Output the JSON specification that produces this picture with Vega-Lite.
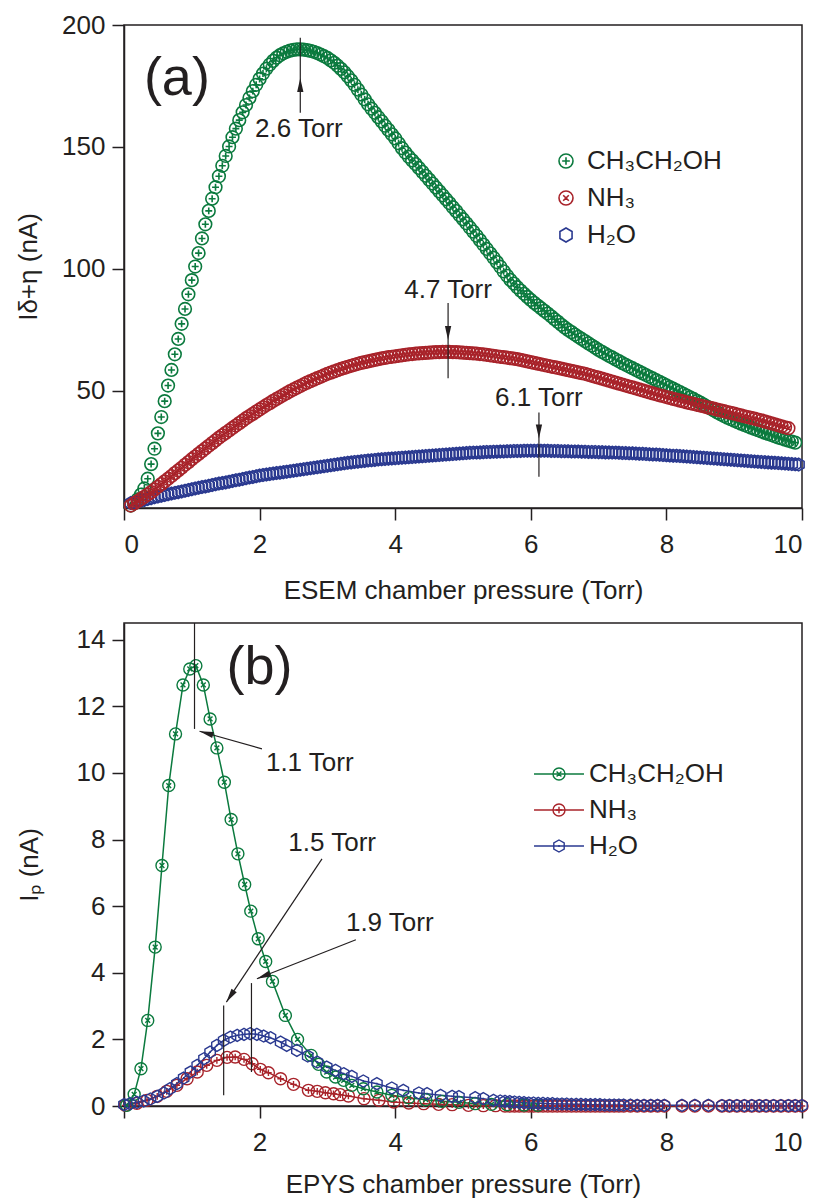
{
"$schema":"https://vega.github.io/schema/vega-lite/v6.json",
"padding":{"left":14,"top":11,"right":0,"bottom":0},
"background":"white",
"config":{
 "font":"Liberation Sans",
 "view":{"stroke":"#231f20","strokeWidth":1.5},
 "axis":{"domainColor":"#231f20","domainWidth":1.5,"tickColor":"#231f20","tickWidth":1.5,"tickSize":12,"labelFontSize":26,"labelColor":"#231f20","labelFont":"Liberation Sans","titleFont":"Liberation Sans","titleFontSize":26,"titleFontWeight":"normal","titleColor":"#231f20","grid":false},
 "axisX":{"labelPadding":11,"titlePadding":20},
 "axisY":{"labelPadding":7}
},
"bounds":"flush",
"spacing":115,
"resolve":{"scale":{"color":"independent","shape":"independent","stroke":"independent"},"legend":{"color":"independent","shape":"independent","stroke":"independent"}},
"datasets":{
"a":[
{"x":0.1,"c":3.0,"n":3.0,"h":4.0},{"x":0.15,"c":4.0,"n":3.9,"h":4.3},{"x":0.2,"c":5.5,"n":4.8,"h":4.6},{"x":0.25,"c":7.5,"n":5.7,"h":5.0},{"x":0.3,"c":10.0,"n":6.6,"h":5.3},{"x":0.35,"c":14.0,"n":7.5,"h":5.7},{"x":0.4,"c":20.0,"n":8.5,"h":6.0},{"x":0.45,"c":26.3,"n":9.6,"h":6.4},{"x":0.5,"c":32.6,"n":10.7,"h":6.7},{"x":0.55,"c":39.3,"n":11.8,"h":7.0},
{"x":0.6,"c":45.8,"n":12.9,"h":7.3},{"x":0.65,"c":52.2,"n":14.0,"h":7.6},{"x":0.7,"c":58.6,"n":15.1,"h":7.9},{"x":0.75,"c":65.0,"n":16.3,"h":8.2},{"x":0.8,"c":71.3,"n":17.4,"h":8.5},{"x":0.85,"c":77.5,"n":18.5,"h":8.8},{"x":0.9,"c":83.6,"n":19.7,"h":9.1},{"x":0.95,"c":89.6,"n":20.8,"h":9.4},{"x":1.0,"c":95.4,"n":22.0,"h":9.7},{"x":1.05,"c":101.0,"n":23.1,"h":10.0},
{"x":1.1,"c":106.5,"n":24.2,"h":10.3},{"x":1.15,"c":112.5,"n":25.3,"h":10.6},{"x":1.2,"c":118.3,"n":26.4,"h":10.8},{"x":1.25,"c":123.8,"n":27.5,"h":11.1},{"x":1.3,"c":128.8,"n":28.6,"h":11.4},{"x":1.35,"c":133.5,"n":29.7,"h":11.7},{"x":1.4,"c":138.0,"n":30.8,"h":12.0},{"x":1.45,"c":142.3,"n":31.8,"h":12.2},{"x":1.5,"c":146.3,"n":32.8,"h":12.5},{"x":1.55,"c":150.2,"n":33.8,"h":12.8},
{"x":1.6,"c":154.0,"n":34.8,"h":13.1},{"x":1.65,"c":157.5,"n":35.8,"h":13.4},{"x":1.7,"c":161.0,"n":36.8,"h":13.6},{"x":1.75,"c":164.2,"n":37.8,"h":13.9},{"x":1.8,"c":167.2,"n":38.8,"h":14.2},{"x":1.85,"c":170.1,"n":39.7,"h":14.5},{"x":1.9,"c":172.9,"n":40.6,"h":14.7},{"x":1.95,"c":175.5,"n":41.5,"h":15.0},{"x":2.0,"c":177.9,"n":42.4,"h":15.3},{"x":2.05,"c":180.1,"n":43.3,"h":15.5},
{"x":2.1,"c":182.1,"n":44.2,"h":15.7},{"x":2.15,"c":183.8,"n":45.0,"h":15.9},{"x":2.2,"c":185.3,"n":45.9,"h":16.1},{"x":2.25,"c":186.6,"n":46.7,"h":16.3},{"x":2.3,"c":187.6,"n":47.5,"h":16.5},{"x":2.35,"c":188.4,"n":48.3,"h":16.7},{"x":2.4,"c":189.0,"n":49.1,"h":16.9},{"x":2.45,"c":189.5,"n":49.9,"h":17.1},{"x":2.5,"c":189.8,"n":50.6,"h":17.3},{"x":2.55,"c":190.0,"n":51.3,"h":17.5},
{"x":2.6,"c":190.0,"n":52.0,"h":17.7},{"x":2.65,"c":189.9,"n":52.7,"h":17.9},{"x":2.7,"c":189.7,"n":53.4,"h":18.1},{"x":2.75,"c":189.4,"n":54.0,"h":18.3},{"x":2.8,"c":189.0,"n":54.6,"h":18.5},{"x":2.85,"c":188.5,"n":55.2,"h":18.7},{"x":2.9,"c":187.9,"n":55.8,"h":18.9},{"x":2.95,"c":187.2,"n":56.4,"h":19.1},{"x":3.0,"c":186.5,"n":57.0,"h":19.3},{"x":3.05,"c":185.5,"n":57.5,"h":19.5},
{"x":3.1,"c":184.5,"n":58.0,"h":19.7},{"x":3.15,"c":183.3,"n":58.5,"h":19.9},{"x":3.2,"c":182.0,"n":59.0,"h":20.1},{"x":3.25,"c":180.6,"n":59.4,"h":20.3},{"x":3.3,"c":179.0,"n":59.9,"h":20.5},{"x":3.35,"c":177.3,"n":60.3,"h":20.7},{"x":3.4,"c":175.5,"n":60.7,"h":20.9},{"x":3.45,"c":173.5,"n":61.1,"h":21.0},{"x":3.5,"c":171.5,"n":61.5,"h":21.2},{"x":3.55,"c":169.5,"n":61.8,"h":21.3},
{"x":3.6,"c":167.5,"n":62.1,"h":21.5},{"x":3.65,"c":165.7,"n":62.4,"h":21.6},{"x":3.7,"c":164.0,"n":62.7,"h":21.7},{"x":3.75,"c":162.2,"n":63.0,"h":21.9},{"x":3.8,"c":160.5,"n":63.3,"h":22.0},{"x":3.85,"c":158.7,"n":63.5,"h":22.1},{"x":3.9,"c":157.0,"n":63.8,"h":22.2},{"x":3.95,"c":155.2,"n":64.0,"h":22.3},{"x":4.0,"c":153.5,"n":64.2,"h":22.4},{"x":4.05,"c":151.5,"n":64.4,"h":22.5},
{"x":4.1,"c":149.5,"n":64.6,"h":22.6},{"x":4.15,"c":147.7,"n":64.8,"h":22.7},{"x":4.2,"c":146.0,"n":65.0,"h":22.8},{"x":4.25,"c":144.5,"n":65.1,"h":22.9},{"x":4.3,"c":143.0,"n":65.3,"h":23.0},{"x":4.35,"c":141.4,"n":65.4,"h":23.1},{"x":4.4,"c":139.8,"n":65.5,"h":23.2},{"x":4.45,"c":138.2,"n":65.6,"h":23.3},{"x":4.5,"c":136.6,"n":65.7,"h":23.4},{"x":4.55,"c":135.0,"n":65.8,"h":23.5},
{"x":4.6,"c":133.4,"n":65.9,"h":23.6},{"x":4.65,"c":131.8,"n":65.9,"h":23.7},{"x":4.7,"c":130.2,"n":66.0,"h":23.8},{"x":4.75,"c":128.6,"n":66.0,"h":23.9},{"x":4.8,"c":127.0,"n":66.0,"h":24.0},{"x":4.85,"c":125.3,"n":65.9,"h":24.1},{"x":4.9,"c":123.7,"n":65.9,"h":24.2},{"x":4.95,"c":122.0,"n":65.8,"h":24.3},{"x":5.0,"c":120.4,"n":65.7,"h":24.4},{"x":5.05,"c":118.7,"n":65.6,"h":24.5},
{"x":5.1,"c":117.0,"n":65.5,"h":24.6},{"x":5.15,"c":115.3,"n":65.4,"h":24.7},{"x":5.2,"c":113.6,"n":65.3,"h":24.7},{"x":5.25,"c":111.8,"n":65.1,"h":24.8},{"x":5.3,"c":110.0,"n":65.0,"h":24.9},{"x":5.35,"c":108.2,"n":64.8,"h":25.0},{"x":5.4,"c":106.4,"n":64.6,"h":25.0},{"x":5.45,"c":104.6,"n":64.4,"h":25.1},{"x":5.5,"c":102.8,"n":64.2,"h":25.1},{"x":5.55,"c":100.9,"n":64.0,"h":25.2},
{"x":5.6,"c":99.0,"n":63.8,"h":25.2},{"x":5.65,"c":97.2,"n":63.6,"h":25.3},{"x":5.7,"c":95.5,"n":63.4,"h":25.3},{"x":5.75,"c":94.0,"n":63.2,"h":25.4},{"x":5.8,"c":92.5,"n":63.0,"h":25.4},{"x":5.85,"c":91.1,"n":62.7,"h":25.4},{"x":5.9,"c":89.8,"n":62.4,"h":25.5},{"x":5.95,"c":88.5,"n":62.1,"h":25.5},{"x":6.0,"c":87.3,"n":61.8,"h":25.5},{"x":6.05,"c":86.1,"n":61.5,"h":25.5},
{"x":6.1,"c":85.0,"n":61.2,"h":25.5},{"x":6.15,"c":83.9,"n":60.9,"h":25.5},{"x":6.2,"c":82.8,"n":60.6,"h":25.5},{"x":6.25,"c":81.7,"n":60.3,"h":25.5},{"x":6.3,"c":80.6,"n":60.0,"h":25.4},{"x":6.35,"c":79.4,"n":59.7,"h":25.4},{"x":6.4,"c":78.3,"n":59.4,"h":25.4},{"x":6.45,"c":77.1,"n":59.1,"h":25.3},{"x":6.5,"c":76.0,"n":58.8,"h":25.3},{"x":6.55,"c":75.0,"n":58.5,"h":25.3},
{"x":6.6,"c":74.1,"n":58.2,"h":25.2},{"x":6.65,"c":73.1,"n":57.9,"h":25.2},{"x":6.7,"c":72.2,"n":57.6,"h":25.2},{"x":6.75,"c":71.3,"n":57.3,"h":25.1},{"x":6.8,"c":70.4,"n":57.0,"h":25.1},{"x":6.85,"c":69.5,"n":56.6,"h":25.0},{"x":6.9,"c":68.6,"n":56.2,"h":25.0},{"x":6.95,"c":67.7,"n":55.8,"h":25.0},{"x":7.0,"c":66.8,"n":55.4,"h":24.9},{"x":7.05,"c":66.0,"n":55.0,"h":24.9},
{"x":7.1,"c":65.2,"n":54.6,"h":24.8},{"x":7.15,"c":64.4,"n":54.2,"h":24.8},{"x":7.2,"c":63.7,"n":53.8,"h":24.7},{"x":7.25,"c":62.9,"n":53.4,"h":24.7},{"x":7.3,"c":62.2,"n":53.0,"h":24.6},{"x":7.35,"c":61.4,"n":52.6,"h":24.5},{"x":7.4,"c":60.7,"n":52.2,"h":24.5},{"x":7.45,"c":60.0,"n":51.8,"h":24.4},{"x":7.5,"c":59.3,"n":51.4,"h":24.4},{"x":7.55,"c":58.6,"n":51.0,"h":24.3},
{"x":7.6,"c":57.9,"n":50.6,"h":24.2},{"x":7.65,"c":57.2,"n":50.2,"h":24.2},{"x":7.7,"c":56.5,"n":49.8,"h":24.1},{"x":7.75,"c":55.8,"n":49.4,"h":24.0},{"x":7.8,"c":55.1,"n":49.0,"h":23.9},{"x":7.85,"c":54.4,"n":48.6,"h":23.9},{"x":7.9,"c":53.7,"n":48.2,"h":23.8},{"x":7.95,"c":53.0,"n":47.9,"h":23.7},{"x":8.0,"c":52.3,"n":47.5,"h":23.6},{"x":8.05,"c":51.6,"n":47.1,"h":23.5},
{"x":8.1,"c":50.9,"n":46.7,"h":23.4},{"x":8.15,"c":50.2,"n":46.4,"h":23.4},{"x":8.2,"c":49.5,"n":46.0,"h":23.3},{"x":8.25,"c":48.8,"n":45.7,"h":23.2},{"x":8.3,"c":48.1,"n":45.3,"h":23.1},{"x":8.35,"c":47.4,"n":45.0,"h":23.0},{"x":8.4,"c":46.7,"n":44.7,"h":22.9},{"x":8.45,"c":45.9,"n":44.3,"h":22.8},{"x":8.5,"c":45.2,"n":44.0,"h":22.7},{"x":8.55,"c":44.4,"n":43.7,"h":22.6},
{"x":8.6,"c":43.6,"n":43.3,"h":22.5},{"x":8.65,"c":42.8,"n":43.0,"h":22.4},{"x":8.7,"c":42.0,"n":42.7,"h":22.3},{"x":8.75,"c":41.2,"n":42.3,"h":22.2},{"x":8.8,"c":40.4,"n":42.0,"h":22.1},{"x":8.85,"c":39.7,"n":41.7,"h":22.0},{"x":8.9,"c":39.0,"n":41.3,"h":21.9},{"x":8.95,"c":38.4,"n":41.0,"h":21.8},{"x":9.0,"c":37.8,"n":40.7,"h":21.7},{"x":9.05,"c":37.2,"n":40.3,"h":21.6},
{"x":9.1,"c":36.6,"n":40.0,"h":21.5},{"x":9.15,"c":36.0,"n":39.6,"h":21.4},{"x":9.2,"c":35.5,"n":39.3,"h":21.3},{"x":9.25,"c":34.9,"n":38.9,"h":21.2},{"x":9.3,"c":34.4,"n":38.6,"h":21.1},{"x":9.35,"c":33.9,"n":38.2,"h":21.0},{"x":9.4,"c":33.4,"n":37.9,"h":20.9},{"x":9.45,"c":32.9,"n":37.5,"h":20.8},{"x":9.5,"c":32.4,"n":37.1,"h":20.7},{"x":9.55,"c":31.9,"n":36.7,"h":20.6},
{"x":9.6,"c":31.4,"n":36.3,"h":20.5},{"x":9.65,"c":30.9,"n":35.9,"h":20.4},{"x":9.7,"c":30.5,"n":35.5,"h":20.3},{"x":9.75,"c":30.0,"n":35.1,"h":20.2},{"x":9.8,"c":29.6,"n":34.7,"h":20.1},{"x":9.85,"c":29.2,"h":20.0},{"x":9.9,"c":28.8,"h":19.9},{"x":9.95,"h":19.8}
],
"b":[
{"s":"n","x":0.02,"y":0.02},{"s":"n","x":0.19,"y":0.08},{"s":"n","x":0.34,"y":0.17},{"s":"n","x":0.49,"y":0.29},{"s":"n","x":0.63,"y":0.44},{"s":"n","x":0.78,"y":0.62},{"s":"n","x":0.93,"y":0.82},{"s":"n","x":1.08,"y":1.02},{"s":"n","x":1.22,"y":1.22},{"s":"n","x":1.37,"y":1.37},{"s":"n","x":1.52,"y":1.46},{"s":"n","x":1.64,"y":1.47},{"s":"n","x":1.77,"y":1.4},{"s":"n","x":1.89,"y":1.27},{"s":"n","x":2.01,"y":1.1},{"s":"n","x":2.13,"y":1.0},{"s":"n","x":2.31,"y":0.82},{"s":"n","x":2.5,"y":0.65},{"s":"n","x":2.72,"y":0.47},{"s":"n","x":2.85,"y":0.44},{"s":"n","x":2.97,"y":0.4},{"s":"n","x":3.09,"y":0.37},{"s":"n","x":3.19,"y":0.34},{"s":"n","x":3.31,"y":0.3},{"s":"n","x":3.54,"y":0.22},{"s":"n","x":3.76,"y":0.17},{"s":"n","x":3.98,"y":0.12},{"s":"n","x":4.2,"y":0.09},{"s":"n","x":4.42,"y":0.07},{"s":"n","x":4.64,"y":0.05},{"s":"n","x":4.84,"y":0.04},{"s":"n","x":5.08,"y":0.02},{"s":"n","x":5.3,"y":0.01},{"s":"n","x":5.48,"y":0.01},
{"s":"n","x":5.62,"y":0},{"s":"n","x":5.69,"y":0},{"s":"n","x":5.76,"y":0},{"s":"n","x":5.83,"y":0},{"s":"n","x":5.9,"y":0},{"s":"n","x":5.97,"y":0},{"s":"n","x":6.04,"y":0},{"s":"n","x":6.11,"y":0},{"s":"n","x":6.18,"y":0},{"s":"n","x":6.25,"y":0},{"s":"n","x":6.32,"y":0},{"s":"n","x":6.39,"y":0},{"s":"n","x":6.46,"y":0},{"s":"n","x":6.53,"y":0},{"s":"n","x":6.6,"y":0},{"s":"n","x":6.67,"y":0},{"s":"n","x":6.74,"y":0},{"s":"n","x":6.81,"y":0},{"s":"n","x":6.88,"y":0},{"s":"n","x":6.95,"y":0},{"s":"n","x":7.02,"y":0},{"s":"n","x":7.09,"y":0},{"s":"n","x":7.16,"y":0},{"s":"n","x":7.23,"y":0},{"s":"n","x":7.3,"y":0},{"s":"n","x":7.37,"y":0},{"s":"n","x":7.47,"y":0},{"s":"n","x":7.57,"y":0},{"s":"n","x":7.67,"y":0},{"s":"n","x":7.77,"y":0},{"s":"n","x":7.87,"y":0},{"s":"n","x":7.97,"y":0},{"s":"n","x":8.23,"y":0},{"s":"n","x":8.42,"y":0},{"s":"n","x":8.62,"y":0},{"s":"n","x":8.82,"y":0},{"s":"n","x":8.93,"y":0},{"s":"n","x":9.04,"y":0},{"s":"n","x":9.15,"y":0},{"s":"n","x":9.26,"y":0},{"s":"n","x":9.37,"y":0},{"s":"n","x":9.47,"y":0},{"s":"n","x":9.58,"y":0},{"s":"n","x":9.69,"y":0},{"s":"n","x":9.8,"y":0},{"s":"n","x":9.9,"y":0},{"s":"n","x":10.0,"y":0},
{"s":"c","x":0.04,"y":0.02},{"s":"c","x":0.15,"y":0.35},{"s":"c","x":0.25,"y":1.12},{"s":"c","x":0.35,"y":2.57},{"s":"c","x":0.46,"y":4.77},{"s":"c","x":0.56,"y":7.22},{"s":"c","x":0.66,"y":9.62},{"s":"c","x":0.76,"y":11.17},{"s":"c","x":0.87,"y":12.64},{"s":"c","x":0.97,"y":13.12},{"s":"c","x":1.06,"y":13.22},{"s":"c","x":1.17,"y":12.64},{"s":"c","x":1.27,"y":11.62},{"s":"c","x":1.37,"y":10.75},{"s":"c","x":1.48,"y":9.72},{"s":"c","x":1.58,"y":8.6},{"s":"c","x":1.68,"y":7.57},{"s":"c","x":1.78,"y":6.65},{"s":"c","x":1.87,"y":5.85},{"s":"c","x":1.98,"y":5.02},{"s":"c","x":2.09,"y":4.34},{"s":"c","x":2.19,"y":3.74},{"s":"c","x":2.38,"y":2.72},{"s":"c","x":2.56,"y":2.0},{"s":"c","x":2.76,"y":1.52},{"s":"c","x":2.87,"y":1.25},{"s":"c","x":2.99,"y":1.02},{"s":"c","x":3.12,"y":0.87},{"s":"c","x":3.24,"y":0.77},{"s":"c","x":3.36,"y":0.62},{"s":"c","x":3.53,"y":0.52},{"s":"c","x":3.73,"y":0.42},{"s":"c","x":3.95,"y":0.32},{"s":"c","x":4.2,"y":0.25},{"s":"c","x":4.45,"y":0.19},{"s":"c","x":4.69,"y":0.14},{"s":"c","x":4.94,"y":0.11},{"s":"c","x":5.18,"y":0.07},{"s":"c","x":5.42,"y":0.05},{"s":"c","x":5.65,"y":0.04},{"s":"c","x":5.9,"y":0.03},{"s":"c","x":6.1,"y":0.02},
{"s":"h","x":0.0,"y":0.04},{"s":"h","x":0.09,"y":0.07},{"s":"h","x":0.19,"y":0.11},{"s":"h","x":0.29,"y":0.15},{"s":"h","x":0.39,"y":0.21},{"s":"h","x":0.49,"y":0.29},{"s":"h","x":0.59,"y":0.39},{"s":"h","x":0.68,"y":0.52},{"s":"h","x":0.78,"y":0.67},{"s":"h","x":0.88,"y":0.84},{"s":"h","x":0.98,"y":1.02},{"s":"h","x":1.08,"y":1.22},{"s":"h","x":1.18,"y":1.42},{"s":"h","x":1.27,"y":1.62},{"s":"h","x":1.37,"y":1.82},{"s":"h","x":1.47,"y":1.97},{"s":"h","x":1.57,"y":2.07},{"s":"h","x":1.67,"y":2.12},{"s":"h","x":1.77,"y":2.15},{"s":"h","x":1.86,"y":2.17},{"s":"h","x":1.96,"y":2.15},{"s":"h","x":2.06,"y":2.1},{"s":"h","x":2.16,"y":2.05},{"s":"h","x":2.31,"y":1.92},{"s":"h","x":2.4,"y":1.82},{"s":"h","x":2.55,"y":1.67},{"s":"h","x":2.71,"y":1.5},{"s":"h","x":2.85,"y":1.32},{"s":"h","x":2.99,"y":1.17},{"s":"h","x":3.12,"y":1.07},{"s":"h","x":3.24,"y":0.97},{"s":"h","x":3.36,"y":0.89},{"s":"h","x":3.53,"y":0.75},{"s":"h","x":3.73,"y":0.67},{"s":"h","x":3.95,"y":0.54},{"s":"h","x":4.12,"y":0.47},{"s":"h","x":4.35,"y":0.39},{"s":"h","x":4.47,"y":0.37},{"s":"h","x":4.67,"y":0.32},{"s":"h","x":4.84,"y":0.29},{"s":"h","x":4.94,"y":0.28},{"s":"h","x":5.18,"y":0.25},{"s":"h","x":5.3,"y":0.22},{"s":"h","x":5.45,"y":0.17},
{"s":"h","x":5.55,"y":0.15},{"s":"h","x":5.62,"y":0.14},{"s":"h","x":5.69,"y":0.13},{"s":"h","x":5.76,"y":0.12},{"s":"h","x":5.83,"y":0.11},{"s":"h","x":5.9,"y":0.1},{"s":"h","x":5.97,"y":0.09},{"s":"h","x":6.04,"y":0.09},{"s":"h","x":6.11,"y":0.08},{"s":"h","x":6.18,"y":0.08},{"s":"h","x":6.25,"y":0.07},{"s":"h","x":6.32,"y":0.07},{"s":"h","x":6.39,"y":0.06},{"s":"h","x":6.46,"y":0.06},{"s":"h","x":6.53,"y":0.06},{"s":"h","x":6.6,"y":0.05},{"s":"h","x":6.67,"y":0.05},{"s":"h","x":6.74,"y":0.05},{"s":"h","x":6.81,"y":0.04},{"s":"h","x":6.88,"y":0.04},{"s":"h","x":6.95,"y":0.04},{"s":"h","x":7.02,"y":0.04},{"s":"h","x":7.09,"y":0.03},{"s":"h","x":7.16,"y":0.03},{"s":"h","x":7.23,"y":0.03},{"s":"h","x":7.3,"y":0.03},{"s":"h","x":7.37,"y":0.03},{"s":"h","x":7.47,"y":0.03},{"s":"h","x":7.57,"y":0.02},{"s":"h","x":7.67,"y":0.02},{"s":"h","x":7.77,"y":0.02},{"s":"h","x":7.87,"y":0.02},{"s":"h","x":7.97,"y":0.02},{"s":"h","x":8.23,"y":0.02},{"s":"h","x":8.42,"y":0.02},{"s":"h","x":8.62,"y":0.02},{"s":"h","x":8.82,"y":0.01},{"s":"h","x":8.93,"y":0.01},{"s":"h","x":9.04,"y":0.01},{"s":"h","x":9.15,"y":0.01},{"s":"h","x":9.26,"y":0.01},{"s":"h","x":9.37,"y":0.01},{"s":"h","x":9.47,"y":0.01},{"s":"h","x":9.58,"y":0.01},{"s":"h","x":9.69,"y":0.01},{"s":"h","x":9.8,"y":0.01},{"s":"h","x":9.9,"y":0.01},{"s":"h","x":10.0,"y":0.01}
]
},
"vconcat":[
{
 "width":678,"height":483,
 "encoding":{
  "x":{"field":"x","type":"quantitative","scale":{"domain":[0,10],"nice":false,"zero":false},"axis":{"values":[0,2,4,6,8,10],"title":"ESEM chamber pressure (Torr)"}},
  "y":{"field":"y","type":"quantitative","scale":{"domain":[2,200],"nice":false,"zero":false},"axis":{"values":[50,100,150,200],"title":"Iδ+η (nA)","titlePadding":20}}
 },
 "layer":[
  {"data":{"name":"a"},"transform":[{"fold":["c","n","h"],"as":["s","y"]}],
   "mark":{"type":"point","filled":false,"size":160,"strokeWidth":1.6,"opacity":1},
   "encoding":{
    "color":{"field":"s","type":"nominal","scale":{"domain":["c","n","h"],"range":["#0b7a3e","#a8232a","#2a3990"]},
     "legend":{"orient":"none","legendX":429,"legendY":123,"title":null,"labelExpr":"datum.value=='c'?'CH₃CH₂OH':datum.value=='n'?'NH₃':'H₂O'","labelFontSize":26,"labelFont":"Liberation Sans","labelColor":"#231f20","symbolSize":196,"symbolStrokeWidth":1.6,"rowPadding":11,"labelOffset":8,"padding":0}},
    "shape":{"field":"s","type":"nominal","scale":{"domain":["c","n","h"],"range":["M1,0A1,1,0,1,1,-1,0A1,1,0,1,1,1,0ZM-0.55,0L0.55,0M0,-0.55L0,0.55","M1,0A1,1,0,1,1,-1,0A1,1,0,1,1,1,0ZM-0.4,-0.4L0.4,0.4M-0.4,0.4L0.4,-0.4","M0,-1L0.866,-0.5L0.866,0.5L0,1L-0.866,0.5L-0.866,-0.5Z"]},
     "legend":{"orient":"none","legendX":429,"legendY":123,"title":null,"labelExpr":"datum.value=='c'?'CH₃CH₂OH':datum.value=='n'?'NH₃':'H₂O'","labelFontSize":26,"labelFont":"Liberation Sans","labelColor":"#231f20","symbolSize":196,"symbolStrokeWidth":1.6,"rowPadding":11,"labelOffset":8,"padding":0}},
    "order":{"field":"s","type":"ordinal"}
   }},
  {"data":{"values":[{"x":2.6,"y":164,"y2":194.8},{"x":4.78,"y":55.2,"y2":86},{"x":6.12,"y":14.8,"y2":41.1}]},
   "mark":{"type":"rule","color":"#231f20","strokeWidth":1.2},"encoding":{"y2":{"field":"y2"}}},
  {"data":{"values":[{"x":2.6,"y":178.3}]},
   "mark":{"type":"point","shape":"M0,0L-0.45,2L0.45,2Z","size":196,"filled":true,"color":"#231f20","opacity":1,"strokeWidth":0,"angle":0}},
  {"data":{"values":[{"x":4.78,"y":70.9},{"x":6.12,"y":30.5}]},
   "mark":{"type":"point","shape":"M0,0L-0.45,2L0.45,2Z","size":196,"filled":true,"color":"#231f20","opacity":1,"strokeWidth":0,"angle":180}},
  {"data":{"values":[{"x":2.58,"y":157.3,"t":"2.6 Torr"},{"x":4.78,"y":91.5,"t":"4.7 Torr"},{"x":6.12,"y":47.2,"t":"6.1 Torr"}]},
   "mark":{"type":"text","fontSize":26,"font":"Liberation Sans","color":"#231f20","align":"center","baseline":"middle"},"encoding":{"text":{"field":"t"}}},
  {"data":{"values":[{"x":0.78,"y":177.8,"t":"(a)"}]},
   "mark":{"type":"text","fontSize":54,"font":"Liberation Sans","color":"#231f20","align":"center","baseline":"middle"},"encoding":{"text":{"field":"t"}}}
 ]
},
{
 "width":678,"height":483,
 "encoding":{
  "x":{"field":"x","type":"quantitative","scale":{"domain":[0,10],"nice":false,"zero":false},"axis":{"values":[0,2,4,6,8,10],"labelExpr":"datum.value==0?'':datum.label","title":"EPYS chamber pressure (Torr)","titlePadding":16}},
  "y":{"field":"y","type":"quantitative","scale":{"domain":[0,14.5],"nice":false,"zero":false},"axis":{"values":[0,2,4,6,8,10,12,14],"title":"Iₚ (nA)","titlePadding":34}}
 },
 "layer":[
  {"data":{"name":"b"},"mark":{"type":"line","strokeWidth":1.5},
   "encoding":{"color":{"field":"s","type":"nominal","scale":{"domain":["h","c","n"],"range":["#2a3990","#0b7a3e","#a8232a"]},
    "legend":{"orient":"none","legendX":422,"legendY":138,"title":null,"values":["c","n","h"],"labelExpr":"''","labelFontSize":26,"labelFont":"Liberation Sans","symbolType":"M-4,0L4,0","symbolSize":156,"symbolStrokeWidth":1.5,"rowPadding":10,"labelOffset":24,"padding":0}}}},
  {"data":{"name":"b"},"mark":{"type":"point","filled":false,"size":144,"strokeWidth":1.4,"opacity":1},
   "encoding":{
    "stroke":{"field":"s","type":"nominal","scale":{"domain":["c","n","h"],"range":["#0b7a3e","#a8232a","#2a3990"]},
     "legend":{"orient":"none","legendX":422,"legendY":138,"title":null,"labelExpr":"datum.value=='c'?'CH₃CH₂OH':datum.value=='n'?'NH₃':'H₂O'","labelFontSize":26,"labelFont":"Liberation Sans","labelColor":"#231f20","symbolSize":144,"symbolStrokeWidth":1.4,"rowPadding":10,"labelOffset":17,"padding":0}},
    "shape":{"field":"s","type":"nominal","scale":{"domain":["c","n","h"],"range":["M1,0A1,1,0,1,1,-1,0A1,1,0,1,1,1,0ZM-0.4,-0.4L0.4,0.4M-0.4,0.4L0.4,-0.4","M1,0A1,1,0,1,1,-1,0A1,1,0,1,1,1,0ZM-0.55,0L0.55,0M0,-0.55L0,0.55","M0,-1L0.866,-0.5L0.866,0.5L0,1L-0.866,0.5L-0.866,-0.5ZM0,-0.15L0,0.15"]},
     "legend":{"orient":"none","legendX":422,"legendY":138,"title":null,"labelExpr":"datum.value=='c'?'CH₃CH₂OH':datum.value=='n'?'NH₃':'H₂O'","labelFontSize":26,"labelFont":"Liberation Sans","labelColor":"#231f20","symbolSize":144,"symbolStrokeWidth":1.4,"rowPadding":10,"labelOffset":17,"padding":0}}
   }},
  {"data":{"values":[{"x":1.04,"y":11.32,"y2":14.5},{"x":1.47,"y":0.32,"y2":3.02},{"x":1.88,"y":1.02,"y2":3.69}]},
   "mark":{"type":"rule","color":"#231f20","strokeWidth":1.2},"encoding":{"y2":{"field":"y2"}}},
  {"data":{"values":[{"x":2.035,"y":10.72,"x2":1.114,"y2":11.25},{"x":2.92,"y":7.42,"x2":1.51,"y2":3.12},{"x":3.42,"y":4.99,"x2":1.96,"y2":3.82}]},
   "mark":{"type":"rule","color":"#231f20","strokeWidth":1.2},"encoding":{"x2":{"field":"x2"},"y2":{"field":"y2"}}},
  {"data":{"values":[{"x":1.114,"y":11.25}]},
   "mark":{"type":"point","shape":"M0,0L-0.45,2L0.45,2Z","size":196,"filled":true,"color":"#231f20","opacity":1,"strokeWidth":0,"angle":285.7}},
  {"data":{"values":[{"x":1.51,"y":3.12}]},
   "mark":{"type":"point","shape":"M0,0L-0.45,2L0.45,2Z","size":196,"filled":true,"color":"#231f20","opacity":1,"strokeWidth":0,"angle":213.6}},
  {"data":{"values":[{"x":1.96,"y":3.82}]},
   "mark":{"type":"point","shape":"M0,0L-0.45,2L0.45,2Z","size":196,"filled":true,"color":"#231f20","opacity":1,"strokeWidth":0,"angle":248.5}},
  {"data":{"values":[{"x":2.74,"y":10.31,"t":"1.1 Torr"},{"x":3.07,"y":7.9,"t":"1.5 Torr"},{"x":3.92,"y":5.5,"t":"1.9 Torr"}]},
   "mark":{"type":"text","fontSize":26,"font":"Liberation Sans","color":"#231f20","align":"center","baseline":"middle"},"encoding":{"text":{"field":"t"}}},
  {"data":{"values":[{"x":2.0,"y":13.16,"t":"(b)"}]},
   "mark":{"type":"text","fontSize":54,"font":"Liberation Sans","color":"#231f20","align":"center","baseline":"middle"},"encoding":{"text":{"field":"t"}}}
 ]
}
]
}
